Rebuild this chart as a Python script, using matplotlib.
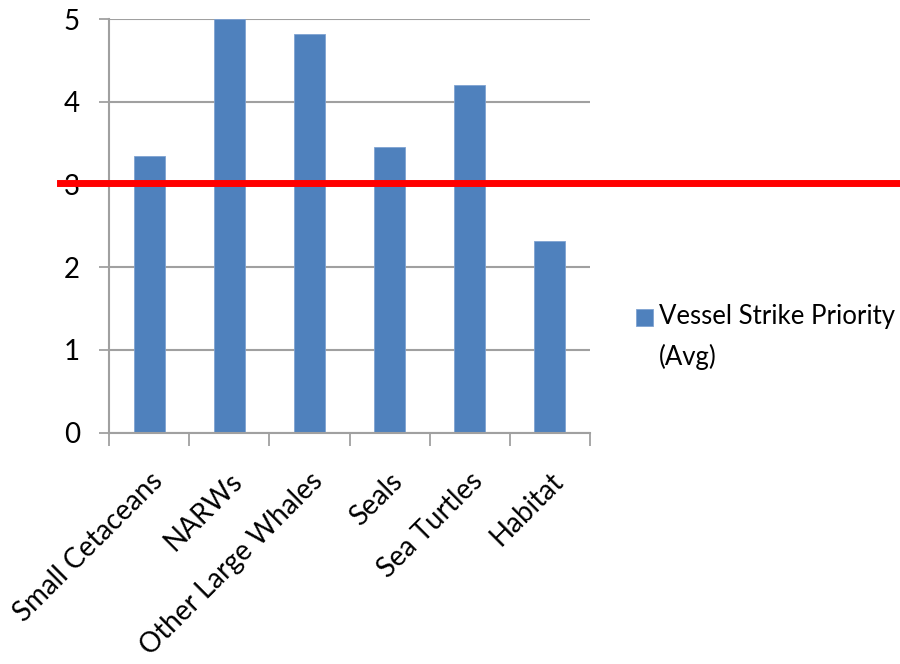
import numpy as np
import matplotlib
matplotlib.use('Agg')
import matplotlib.pyplot as plt

plt.rcParams['font.family'] = ['Lato', 'DejaVu Sans']

categories = ['Small Cetaceans', 'NARWs', 'Other Large Whales', 'Seals', 'Sea Turtles', 'Habitat']
priority = [3.35, 5.0, 4.82, 3.45, 4.20, 2.32]
threshold = 3.02
series_name = 'Vessel Strike Priority\n(Avg)'

bar_col = '#4F81BD'
grid_col = '#A0A0A0'

fig = plt.figure(figsize=(9, 6.64), dpi=100)
ax = fig.add_axes([109/900, 1-432.5/664, (590-109)/900, (432.5-19.3)/664])

x = np.arange(len(categories))
ax.bar(x, priority, width=0.385, color=bar_col, edgecolor='#7FA3D2', linewidth=0.6,
       label=series_name, zorder=2)

ax.set_xlim(-0.5, len(categories) - 0.5)
ax.set_ylim(0, 5)
ax.set_yticks(range(6))
ax.yaxis.grid(True, color=grid_col, linewidth=1.5, zorder=0)
ax.set_axisbelow(True)

# ticks sit between categories
ax.set_xticks(np.arange(len(categories) + 1) - 0.5)
ax.set_xticklabels([])
ax.tick_params(axis='x', length=9, width=1.3, color=grid_col)
ax.tick_params(axis='y', length=7, width=1.3, color=grid_col, pad=14, labelsize=20)

for i, name in enumerate(categories):
    ax.text(i + 0.0, -0.43, name, rotation=45, ha='right', va='top',
            rotation_mode='anchor', fontsize=20)

for s in ['top', 'right']:
    ax.spines[s].set_visible(False)
for s in ['left', 'bottom']:
    ax.spines[s].set_color(grid_col)
    ax.spines[s].set_linewidth(1.5)

# red reference line running across the whole figure
x0 = (60 - 109) / (590 - 109)
x1 = (900 - 109) / (590 - 109)
ax.axhline(threshold, xmin=x0, xmax=x1, color='#FF0000', linewidth=5, clip_on=False, zorder=5)

leg = ax.legend(loc='upper left', bbox_to_anchor=(636/900, 1-304/664),
                bbox_transform=fig.transFigure, frameon=False, fontsize=18.5,
                handlelength=0.65, handleheight=0.65, handletextpad=0.25,
                borderpad=0, borderaxespad=0)
for t in leg.get_texts():
    t.set_linespacing(1.72)
# keep the square next to the first line
h = leg.legend_handles[0]
h.set_y(h.get_y() + 15)

fig.savefig('out.png', dpi=100)
